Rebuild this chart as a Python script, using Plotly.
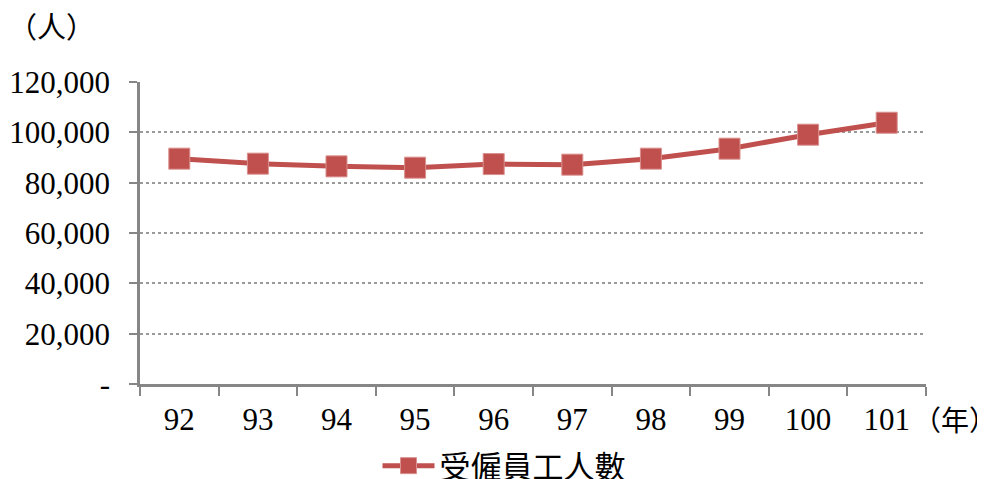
import plotly.graph_objects as go

years = ["92", "93", "94", "95", "96", "97", "98", "99", "100", "101"]
employees = [89540, 87550, 86480, 85960, 87390, 87150, 89540, 93500, 99060, 103820]
y_ticks = [0, 20000, 40000, 60000, 80000, 100000, 120000]
y_tick_text = ["-", "20,000", "40,000", "60,000", "80,000", "100,000", "120,000"]

FONT = "Liberation Serif, Times New Roman, Noto Sans CJK TC, serif"
RED = "#C0504D"
GRAY = "#868686"
FS = 31

# page body adds an 8px offset; figure sized to fit the window
OFF = 8
PLOT_W = 786
PLOT_H = 302

fig = go.Figure()
fig.add_trace(go.Scatter(
    x=years, y=employees, mode="lines+markers", name="受僱員工人數",
    line=dict(color=RED, width=5),
    marker=dict(symbol="square", size=21, color=RED, line=dict(color="#D9908E", width=1)),
))

fig.update_layout(
    width=985 - OFF, height=479 - OFF,
    margin=dict(l=140 - OFF, r=59, t=82 - OFF, b=95, autoexpand=False),
    paper_bgcolor="white", plot_bgcolor="white",
    font=dict(family=FONT, size=FS, color="black"),
    showlegend=True,
    legend=dict(orientation="h", x=(504 - 140) / PLOT_W, xanchor="center",
                y=-82 / PLOT_H, yanchor="middle", itemwidth=52,
                font=dict(size=31), bgcolor="rgba(0,0,0,0)"),
    xaxis=dict(
        type="category", range=[-0.5, len(years) - 0.5],
        showline=True, linecolor=GRAY, linewidth=2.5,
        ticks="outside", tickson="boundaries", ticklen=9, tickcolor=GRAY, tickwidth=2,
        showgrid=False, ticklabelstandoff=6, automargin=False,
    ),
    yaxis=dict(
        range=[0, 120000], tickvals=y_ticks, ticktext=y_tick_text,
        showline=True, linecolor=GRAY, linewidth=2.5,
        ticks="outside", ticklen=8, tickcolor=GRAY, tickwidth=2,
        showgrid=True, gridcolor="#9A9A9A", griddash="dot", gridwidth=1.5,
        zeroline=False, ticklabelstandoff=13, automargin=False,
    ),
    annotations=[
        dict(text="（人）", xref="paper", yref="paper", x=-(140 - 6) / PLOT_W, y=1 + 54 / PLOT_H,
             xanchor="left", yanchor="middle", showarrow=False, font=dict(size=FS - 2)),
        dict(text="（年）", xref="paper", yref="paper", x=(955 - 140) / PLOT_W, y=-37 / PLOT_H,
             xanchor="center", yanchor="middle", showarrow=False, font=dict(size=FS - 3)),
    ],
)

fig.write_html("out.html")
